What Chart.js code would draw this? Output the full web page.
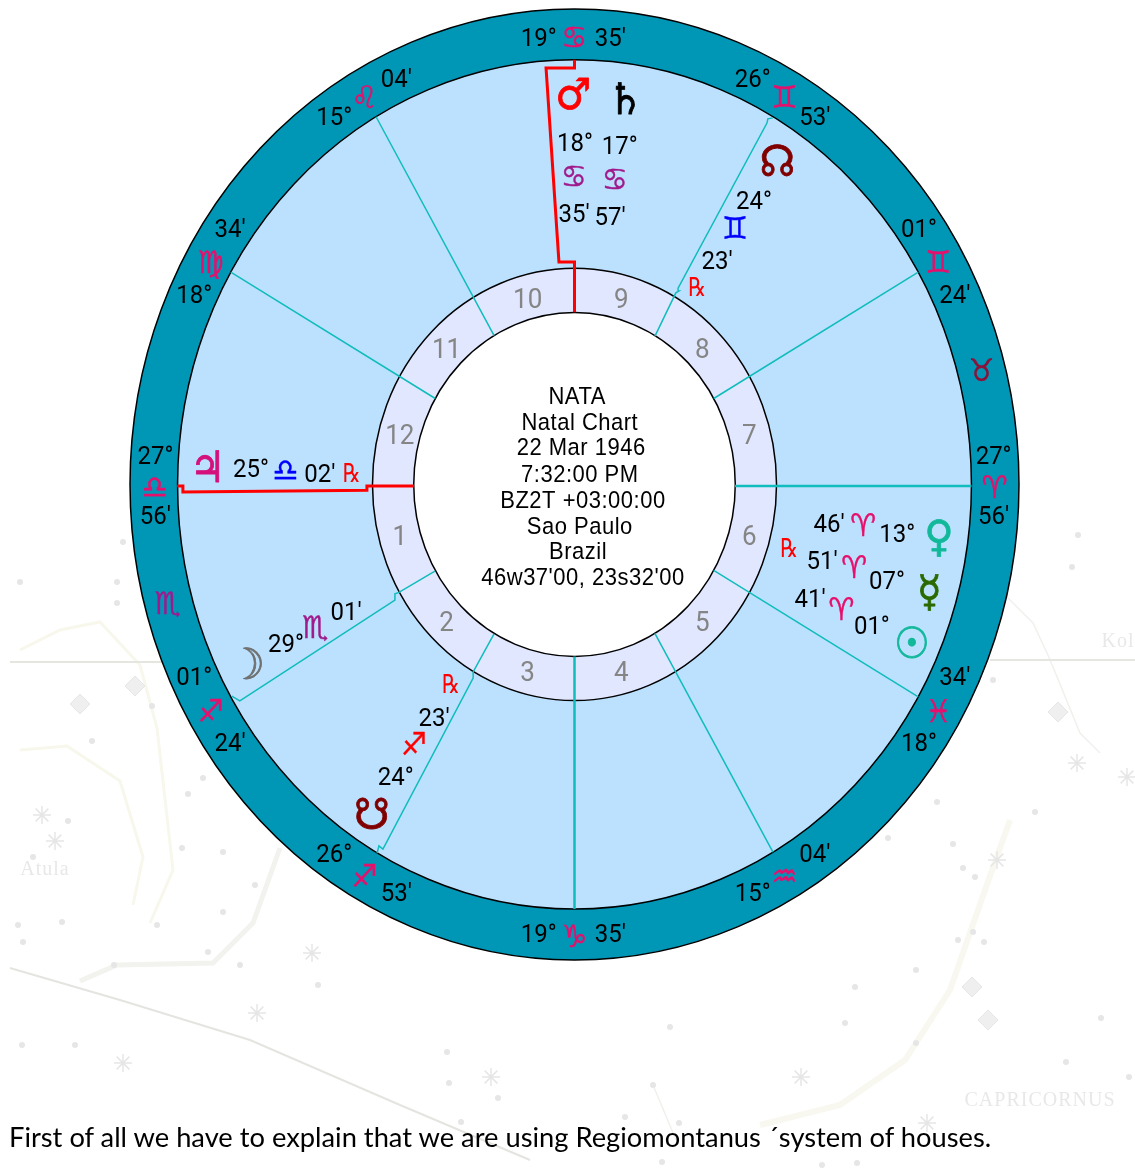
<!DOCTYPE html>
<html>
<head>
<meta charset="utf-8">
<title>Natal Chart</title>
<script src="https://cdn.jsdelivr.net/npm/chart.js@4"></script>
<style>
  html, body { margin: 0; padding: 0; background: #fff; }
  #page { position: relative; width: 1135px; height: 1175px; overflow: hidden; }
  #page canvas { position: absolute; left: 0; top: 0; }
  #caption {
    position: absolute; left: 9px; top: 1120px; white-space: nowrap;
    font: 27.3px Lato, sans-serif; color: #000;
  }
</style>
</head>
<body>
<div id="page">
  <canvas id="map" width="1135" height="1175"></canvas>
  <canvas id="wheel" width="1135" height="1175"></canvas>
  <div id="caption">First of all we have to explain that we are using Regiomontanus ´system of houses.</div>
</div>
<script>
const VS = '\uFE0E';

// Houses
const houseNumbers = ['1', '2', '3', '4', '5', '6', '7', '8', '9', '10', '11', '12'];
const houseMidAngles = [195, 225, 255, 285, 315, 345, 15, 45, 75, 105, 135, 165];

// Cusps, anticlockwise from the descendant
const cuspAngles = [0, 30, 60, 90, 120, 150, 180, 210, 240, 270, 300, 330];
const cuspDegrees = ['27°', '01°', '26°', '19°', '15°', '18°', '27°', '01°', '26°', '19°', '15°', '18°'];
const cuspMinutes = ["56'", "24'", "53'", "35'", "04'", "34'", "56'", "24'", "53'", "35'", "04'", "34'"];
const cuspSigns = ['♈', '♊', '♊', '♋', '♌', '♍', '♎', '♐', '♐', '♑', '♒', '♓'];
const straightCusps = [30, 120, 150, 300, 330];
const interceptAngles = [15, 195];
const interceptSigns = ['♉', '♏'];

// Planets
const planetGlyphs = ['♂', '♄', '☊', '♃', '☽', '♀', '☿', '☉', '☋'];
const planetDegrees = ['18°', '17°', '24°', '25°', '29°', '13°', '07°', '01°', '24°'];
const planetSigns = ['♋', '♋', '♊', '♎', '♏', '♈', '♈', '♈', '♐'];
const planetMinutes = ["35'", "57'", "23'", "02'", "01'", "46'", "51'", "41'", "23'"];
const planetColors = ['#ff0000', '#000000', '#800000', '#d4107c', '#707070', '#12b89a', '#2a6a00', '#12b89a', '#800000'];
const signColors = ['#a01a8c', '#a01a8c', '#0000ff', '#0000ff', '#a01a8c', '#e6106c', '#e6106c', '#e6106c', '#ff0000'];

const glyphX = [-0.003, 0.114, 0.456, -0.825, -0.737, 0.820, 0.798, 0.759, -0.456];
const glyphY = [0.819, 0.809, 0.678, 0.035, -0.380, -0.110, -0.226, -0.335, -0.695];
const degreeX = [0.001, 0.102, 0.404, -0.728, -0.649, 0.726, 0.703, 0.669, -0.402];
const degreeY = [0.722, 0.714, 0.600, 0.035, -0.333, -0.100, -0.199, -0.295, -0.613];
const signX = [-0.001, 0.091, 0.361, -0.651, -0.584, 0.649, 0.629, 0.600, -0.361];
const signY = [0.647, 0.640, 0.537, 0.028, -0.302, -0.087, -0.176, -0.264, -0.548];
const minuteX = [-0.001, 0.080, 0.321, -0.573, -0.514, 0.573, 0.557, 0.530, -0.316];
const minuteY = [0.571, 0.565, 0.474, 0.026, -0.266, -0.079, -0.157, -0.237, -0.487];

// Retrograde marks: north node, Jupiter, Mercury, south node
const retroX = [0.276, -0.501, 0.483, -0.278];
const retroY = [0.413, 0.022, -0.136, -0.422];

// Cusp lines that step around the planets
const mcPathX = [0, 0, -0.035, -0.064, 0, 0];
const mcPathY = [0.362, 0.468, 0.468, 0.876, 0.876, 0.893];
const ascPathX = [-0.361, -0.467, -0.467, -0.881, -0.881, -0.894];
const ascPathY = [-0.003, -0.003, -0.012, -0.016, -0.003, -0.003];
const descPathX = [0.361, 0.893];
const descPathY = [-0.003, -0.003];
const cusp2PathX = [-0.314, -0.395, -0.404, -0.404, -0.753, -0.771];
const cusp2PathY = [-0.182, -0.227, -0.230, -0.243, -0.455, -0.445];
const cusp3PathX = [-0.181, -0.228, -0.228, -0.431, -0.440, -0.444];
const cusp3PathY = [-0.314, -0.394, -0.407, -0.767, -0.760, -0.775];
const cusp9PathX = [0.181, 0.228, 0.235, 0.233, 0.433, 0.435, 0.446];
const cusp9PathY = [0.312, 0.403, 0.407, 0.413, 0.760, 0.769, 0.771];

// Chart details in the middle of the wheel
const centreLines = ['NATA', 'Natal Chart', '22 Mar 1946', '7:32:00 PM', 'BZ2T +03:00:00', 'Sao Paulo', 'Brazil', "46w37'00, 23s32'00"];
const centreX = [0.006, 0.012, 0.015, 0.012, 0.019, 0.012, 0.008, 0.019];
const centreY = [0.187, 0.133, 0.079, 0.024, -0.031, -0.086, -0.138, -0.193];

// Star map behind the wheel, on the page's own axis
const dotX = [20, 117, 117, 123, 152, 92, 203, 188, 68, 33, 18, 23, 62, 157, 208, 114, 318, 22, 75, 182, 223, 255, 223, 240, 855, 916, 958, 845, 916, 1066, 1101, 653, 670, 498, 447, 449, 625, 679, 461, 822, 857, 662, 1129, 1078, 1072, 993, 937, 1035, 888, 953, 963, 975, 973, 984];
const dotY = [582, 582, 603, 542, 706, 741, 778, 794, 821, 857, 925, 942, 922, 925, 952, 965, 985, 1045, 1045, 848, 852, 885, 912, 965, 987, 970, 940, 1023, 1043, 1062, 1018, 1085, 1027, 1098, 1052, 1083, 1117, 1123, 1122, 1165, 1163, 1162, 1077, 535, 567, 680, 802, 812, 838, 844, 868, 877, 932, 942];
const starX = [42, 55, 312, 257, 123, 801, 491, 927, 1077, 1127, 997];
const starY = [815, 841, 953, 1013, 1063, 1077, 1077, 1123, 763, 777, 860];
const diamondX = [972, 988, 1058, 80, 135];
const diamondY = [987, 1020, 712, 704, 686];

const eclipticX = [10, 120, 250, 400, 530];
const eclipticY = [968, 1000, 1040, 1105, 1160];
const horizonLeftX = [10, 170];
const horizonLeftY = [662, 662];
const horizonRightX = [990, 1135];
const horizonRightY = [660, 660];
const arcOuterX = [20, 60, 100, 140, 157, 173, 150];
const arcOuterY = [650, 630, 622, 665, 728, 870, 923];
const arcInnerX = [20, 67, 120, 143, 133];
const arcInnerY = [750, 746, 781, 857, 905];
const bandLeftX = [280, 253, 213, 117, 80];
const bandLeftY = [848, 923, 963, 965, 981];
const bandRightX = [1010, 985, 950, 905, 840, 760];
const bandRightY = [820, 890, 990, 1060, 1105, 1125];
const arcRightX = [1007, 1033, 1047, 1053, 1080, 1100];
const arcRightY = [597, 623, 653, 667, 733, 753];
const thinLineX = [653, 676];
const thinLineY = [1085, 1140];
const mapNames = ['CAPRICORNUS', 'Atula', 'Kol'];
const mapNameX = [1040, 45, 1118];
const mapNameY = [1101, 870, 642];

// Wheel radii, outer rim = 1
const RING_OUTER = 1;
const RING_ZODIAC = 0.893;
const RING_HOUSE = 0.4545;
const RING_CENTRE = 0.3617;

const rad = a => a * Math.PI / 180;
const polar = (a, r) => ({ x: r * Math.cos(rad(a)), y: r * Math.sin(rad(a)) });
const zip = (xs, ys) => xs.map((x, i) => ({ x, y: ys[i] }));

// Draws dataset.labels at the points the chart placed
const textLayer = {
  id: 'textLayer',
  afterDatasetsDraw(chart) {
    const ctx = chart.ctx;
    chart.data.datasets.forEach((ds, i) => {
      if (!ds.labels) return;
      chart.getDatasetMeta(i).data.forEach((el, j) => {
        const color = Array.isArray(ds.textColor) ? ds.textColor[j] : ds.textColor;
        ctx.save();
        ctx.font = ds.textFont;
        ctx.letterSpacing = ds.spacing || '0px';
        ctx.textAlign = 'center';
        ctx.textBaseline = 'middle';
        // the original wheel is a circle stretched upward, so its text is too
        ctx.translate(el.x, el.y + (ds.textShift || 0));
        ctx.scale(1, ds.stretch || 1);
        ctx.fillStyle = color;
        ctx.fillText(ds.labels[j], 0, 0);
        if (ds.weight) {
          ctx.lineWidth = ds.weight;
          ctx.lineJoin = 'round';
          ctx.strokeStyle = color;
          ctx.strokeText(ds.labels[j], 0, 0);
        }
        ctx.restore();
      });
    });
  }
};

// Ellipses of the wheel, taken from the scales so the stretch follows the axes
const wheelRings = {
  id: 'wheelRings',
  beforeDatasetsDraw(chart) {
    const { ctx, scales: { x, y } } = chart;
    const cx = x.getPixelForValue(0), cy = y.getPixelForValue(0);
    const ring = (r, fill) => {
      ctx.beginPath();
      ctx.ellipse(cx, cy, x.getPixelForValue(r) - cx, cy - y.getPixelForValue(r), 0, 0, Math.PI * 2);
      ctx.fillStyle = fill;
      ctx.fill();
      ctx.lineWidth = 1.5;
      ctx.strokeStyle = '#000';
      ctx.stroke();
    };
    ring(RING_OUTER, '#0097b7');
    ring(RING_ZODIAC, '#bbe1fe');
    ring(RING_HOUSE, '#e0e7fe');
    ring(RING_CENTRE, '#ffffff');
  }
};

const labelSet = (points, labels, textFont, textColor, extra = {}) => ({
  data: points, labels, textFont, textColor, pointRadius: 0, showLine: false, stretch: 1.08, ...extra
});
const pathSet = (points, color, width) => ({
  data: points, showLine: true, borderColor: color, borderWidth: width, pointRadius: 0, fill: false, tension: 0
});

const NUM_FONT = '24px Roboto, sans-serif';
const SIGN_FONT = '29px "DejaVu Sans"';
const CUSP_COLOR = '#10bcbc';
const SIGN_COLOR = '#e6106c';
const NUM_STYLE = { textShift: 3 };
const SIGN_STYLE = { textShift: 2, weight: 0.4 };
const vs = list => list.map(s => s + VS);

const wheelSets = [
  ...straightCusps.map(a => pathSet([polar(a, RING_CENTRE), polar(a, RING_ZODIAC)], CUSP_COLOR, 1.5)),
  pathSet([polar(270, RING_CENTRE), polar(270, RING_ZODIAC)], CUSP_COLOR, 2.5),
  pathSet(zip(descPathX, descPathY), CUSP_COLOR, 2.5),
  pathSet(zip(cusp2PathX, cusp2PathY), CUSP_COLOR, 1.5),
  pathSet(zip(cusp3PathX, cusp3PathY), CUSP_COLOR, 1.5),
  pathSet(zip(cusp9PathX, cusp9PathY), CUSP_COLOR, 1.5),
  pathSet(zip(mcPathX, mcPathY), '#ff0000', 3),
  pathSet(zip(ascPathX, ascPathY), '#ff0000', 3),

  labelSet(houseMidAngles.map(a => polar(a, 0.407)), houseNumbers, '26px Roboto, sans-serif', '#858585', NUM_STYLE),

  // Cusp labels sit either side of the cusp, degrees leading in the upper half
  labelSet(cuspAngles.map(a => polar(a, 0.945)), vs(cuspSigns), SIGN_FONT, SIGN_COLOR, { ...SIGN_STYLE, textShift: 5 }),
  labelSet(cuspAngles.map((a, i) => polar(a + (i < 6 ? 1 : -1) * (a % 180 === 0 ? 3.8 : 4.9), 0.945)), cuspDegrees, NUM_FONT, '#000', NUM_STYLE),
  labelSet(cuspAngles.map((a, i) => polar(a - (i < 6 ? 1 : -1) * (a % 180 === 0 ? 3.8 : 4.9), 0.945)), cuspMinutes, NUM_FONT, '#000', NUM_STYLE),
  labelSet(interceptAngles.map(a => polar(a, 0.948)), vs(interceptSigns), SIGN_FONT, ['#8b1238', '#a01a8c'], { ...SIGN_STYLE, textShift: 5 }),

  labelSet(zip(glyphX, glyphY), vs(planetGlyphs), 'bold 40px "DejaVu Sans"', planetColors, { textShift: 3, weight: 0.8 }),
  labelSet(zip(degreeX, degreeY), planetDegrees, NUM_FONT, '#000', NUM_STYLE),
  labelSet(zip(signX, signY), vs(planetSigns), SIGN_FONT, signColors, SIGN_STYLE),
  labelSet(zip(minuteX, minuteY), planetMinutes, NUM_FONT, '#000', NUM_STYLE),
  labelSet(zip(retroX, retroY), retroX.map(() => '℞'), '20px "DejaVu Sans"', '#ff0000', { stretch: 1.3, textShift: 1 }),

  labelSet(zip(centreX, centreY), centreLines, '22px "Liberation Sans"', '#000', { spacing: '0.5px', textShift: 2 })
];

const hiddenAxis = (min, max, reverse = false) => ({ type: 'linear', display: false, min, max, reverse });
const baseOptions = {
  responsive: false,
  animation: false,
  events: [],
  layout: { padding: 0, autoPadding: false },
  plugins: { legend: { display: false }, tooltip: { enabled: false } }
};

// The wheel is stretched: 444.5 px wide radius, 475.5 px tall, centred at 574.5 / 484.5
new Chart(document.getElementById('wheel'), {
  type: 'scatter',
  data: { datasets: wheelSets },
  options: {
    ...baseOptions,
    scales: { x: hiddenAxis(-1.2925, 1.261), y: hiddenAxis(-1.4522, 1.0189) }
  },
  plugins: [wheelRings, textLayer]
});

new Chart(document.getElementById('map'), {
  type: 'scatter',
  data: {
    datasets: [
      { data: zip(dotX, dotY), pointRadius: 3, pointStyle: 'circle', backgroundColor: '#e6e6e6', borderWidth: 0 },
      { data: zip(starX, starY), pointRadius: 9, pointStyle: 'star', borderColor: '#e6e6e6', borderWidth: 1.5, backgroundColor: 'transparent' },
      { data: zip(diamondX, diamondY), pointRadius: 10, pointStyle: 'rectRot', backgroundColor: '#efefef', borderColor: '#e6e6e6', borderWidth: 1 },
      pathSet(zip(eclipticX, eclipticY), '#e4e4e0', 2),
      pathSet(zip(horizonLeftX, horizonLeftY), '#e6e6e0', 2),
      pathSet(zip(horizonRightX, horizonRightY), '#e6e6e0', 2),
      pathSet(zip(arcOuterX, arcOuterY), '#f8f7ec', 3),
      pathSet(zip(arcInnerX, arcInnerY), '#f8f7ec', 3),
      pathSet(zip(bandLeftX, bandLeftY), '#f2f2ee', 5),
      pathSet(zip(bandRightX, bandRightY), '#f8f8f0', 6),
      pathSet(zip(arcRightX, arcRightY), '#f0f0ec', 1.5),
      pathSet(zip(thinLineX, thinLineY), '#f0f0ec', 1.5),
      labelSet(zip(mapNameX, mapNameY), mapNames, '20px "Liberation Serif"', '#e8e8e8', { spacing: '1px', stretch: 1 })
    ]
  },
  options: {
    ...baseOptions,
    scales: { x: hiddenAxis(0, 1135), y: hiddenAxis(0, 1175, true) }
  },
  plugins: [textLayer]
});
</script>
</body>
</html>
